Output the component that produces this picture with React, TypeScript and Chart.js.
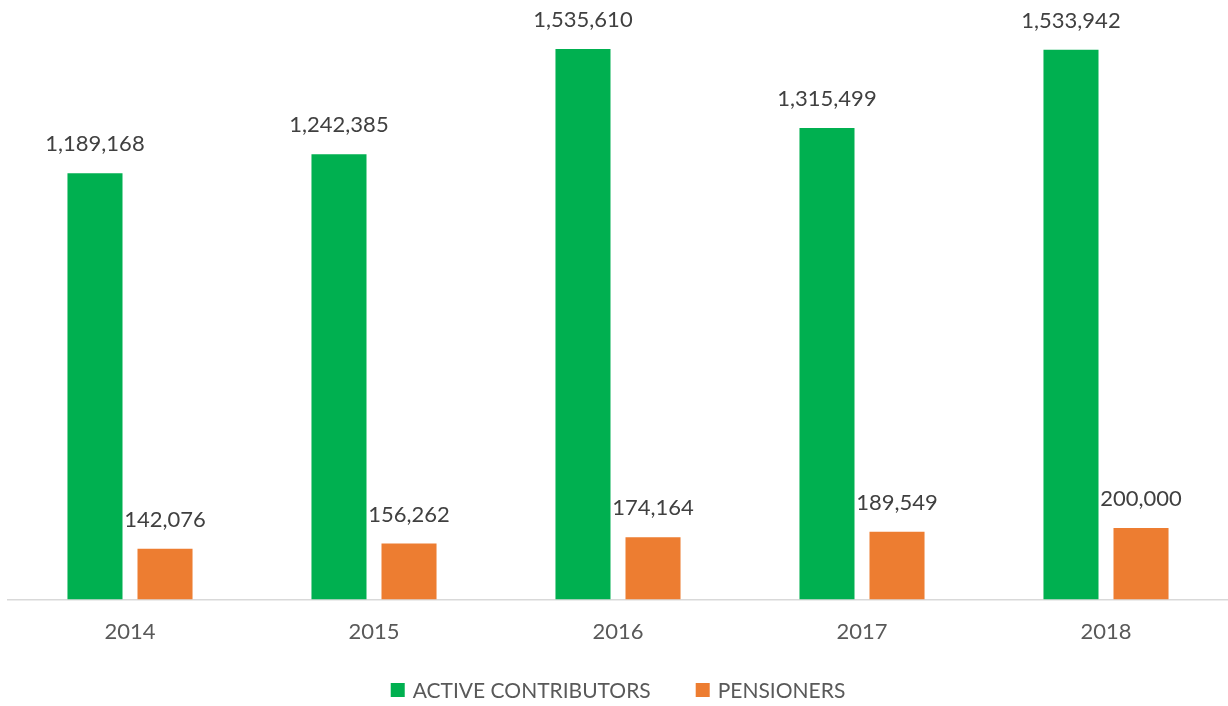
import React, { useEffect, useRef } from "react";
import { Chart, registerables } from "chart.js";

Chart.register(...registerables);

const years = ["2014", "2015", "2016", "2017", "2018"];
const activeContributors = [1189168, 1242385, 1535610, 1315499, 1533942];
const pensioners = [142076, 156262, 174164, 189549, 200000];

const FONT = "Lato, 'Open Sans', sans-serif";

const dataLabels = {
  id: "dataLabels",
  afterDatasetsDraw(chart: any) {
    const ctx = chart.ctx;
    ctx.save();
    ctx.font = `22px ${FONT}`;
    ctx.fillStyle = "#404040";
    ctx.textAlign = "center";
    ctx.textBaseline = "alphabetic";
    chart.data.datasets.forEach((ds: any, i: number) => {
      const meta = chart.getDatasetMeta(i);
      meta.data.forEach((bar: any, j: number) => {
        const v = ds.data[j] as number;
        ctx.fillText(v.toLocaleString("en-US"), bar.x, bar.y - 22);
      });
    });
    ctx.restore();
  },
};

const bottomLegend = {
  id: "bottomLegend",
  afterDraw(chart: any) {
    const ctx = chart.ctx;
    const box = 14;
    const boxGap = 8;
    const itemGap = 45;
    const y = 690;
    ctx.save();
    ctx.font = `21px ${FONT}`;
    ctx.textBaseline = "middle";
    ctx.textAlign = "left";
    const items = chart.data.datasets.map((ds: any) => ({
      text: ds.label as string,
      color: ds.backgroundColor as string,
      w: ctx.measureText(ds.label).width,
    }));
    let total = 0;
    items.forEach((it: any, i: number) => {
      total += box + boxGap + it.w + (i < items.length - 1 ? itemGap : 0);
    });
    let x = (chart.chartArea.left + chart.chartArea.right) / 2 - total / 2;
    items.forEach((it: any) => {
      ctx.fillStyle = it.color;
      ctx.fillRect(x, y - box / 2, box, box);
      x += box + boxGap;
      ctx.fillStyle = "#595959";
      ctx.fillText(it.text, x, y + 1);
      x += it.w + itemGap;
    });
    ctx.restore();
  },
};

export default function App() {
  const ref = useRef<HTMLCanvasElement | null>(null);
  useEffect(() => {
    if (!ref.current) return;
    const chart = new Chart(ref.current, {
      type: "bar",
      data: {
        labels: years,
        datasets: [
          {
            label: "ACTIVE CONTRIBUTORS",
            data: activeContributors,
            backgroundColor: "#00B050",
          },
          {
            label: "PENSIONERS",
            data: pensioners,
            backgroundColor: "#ED7D31",
          },
        ],
      },
      options: {
        animation: false,
        responsive: true,
        maintainAspectRatio: false,
        layout: { padding: { top: 26, left: 8, right: 0, bottom: 42 } },
        datasets: {
          bar: { categoryPercentage: 0.574, barPercentage: 0.786 },
        },
        scales: {
          x: {
            grid: { display: false, drawTicks: false },
            border: { display: true, color: "#D9D9D9", width: 1.5 },
            ticks: {
              color: "#595959",
              font: { family: FONT, size: 22 },
              padding: 19,
            },
          },
          y: {
            display: false,
            min: 0,
            max: 1600000,
          },
        },
        plugins: {
          legend: { display: false },
          tooltip: { enabled: false },
        },
      },
      plugins: [dataLabels, bottomLegend],
    });
    return () => chart.destroy();
  }, []);
  return (
    <div style={{ position: "fixed", left: 0, top: 0, width: 1228, height: 706, background: "#fff", overflow: "hidden" }}>
      <canvas ref={ref} />
    </div>
  );
}
